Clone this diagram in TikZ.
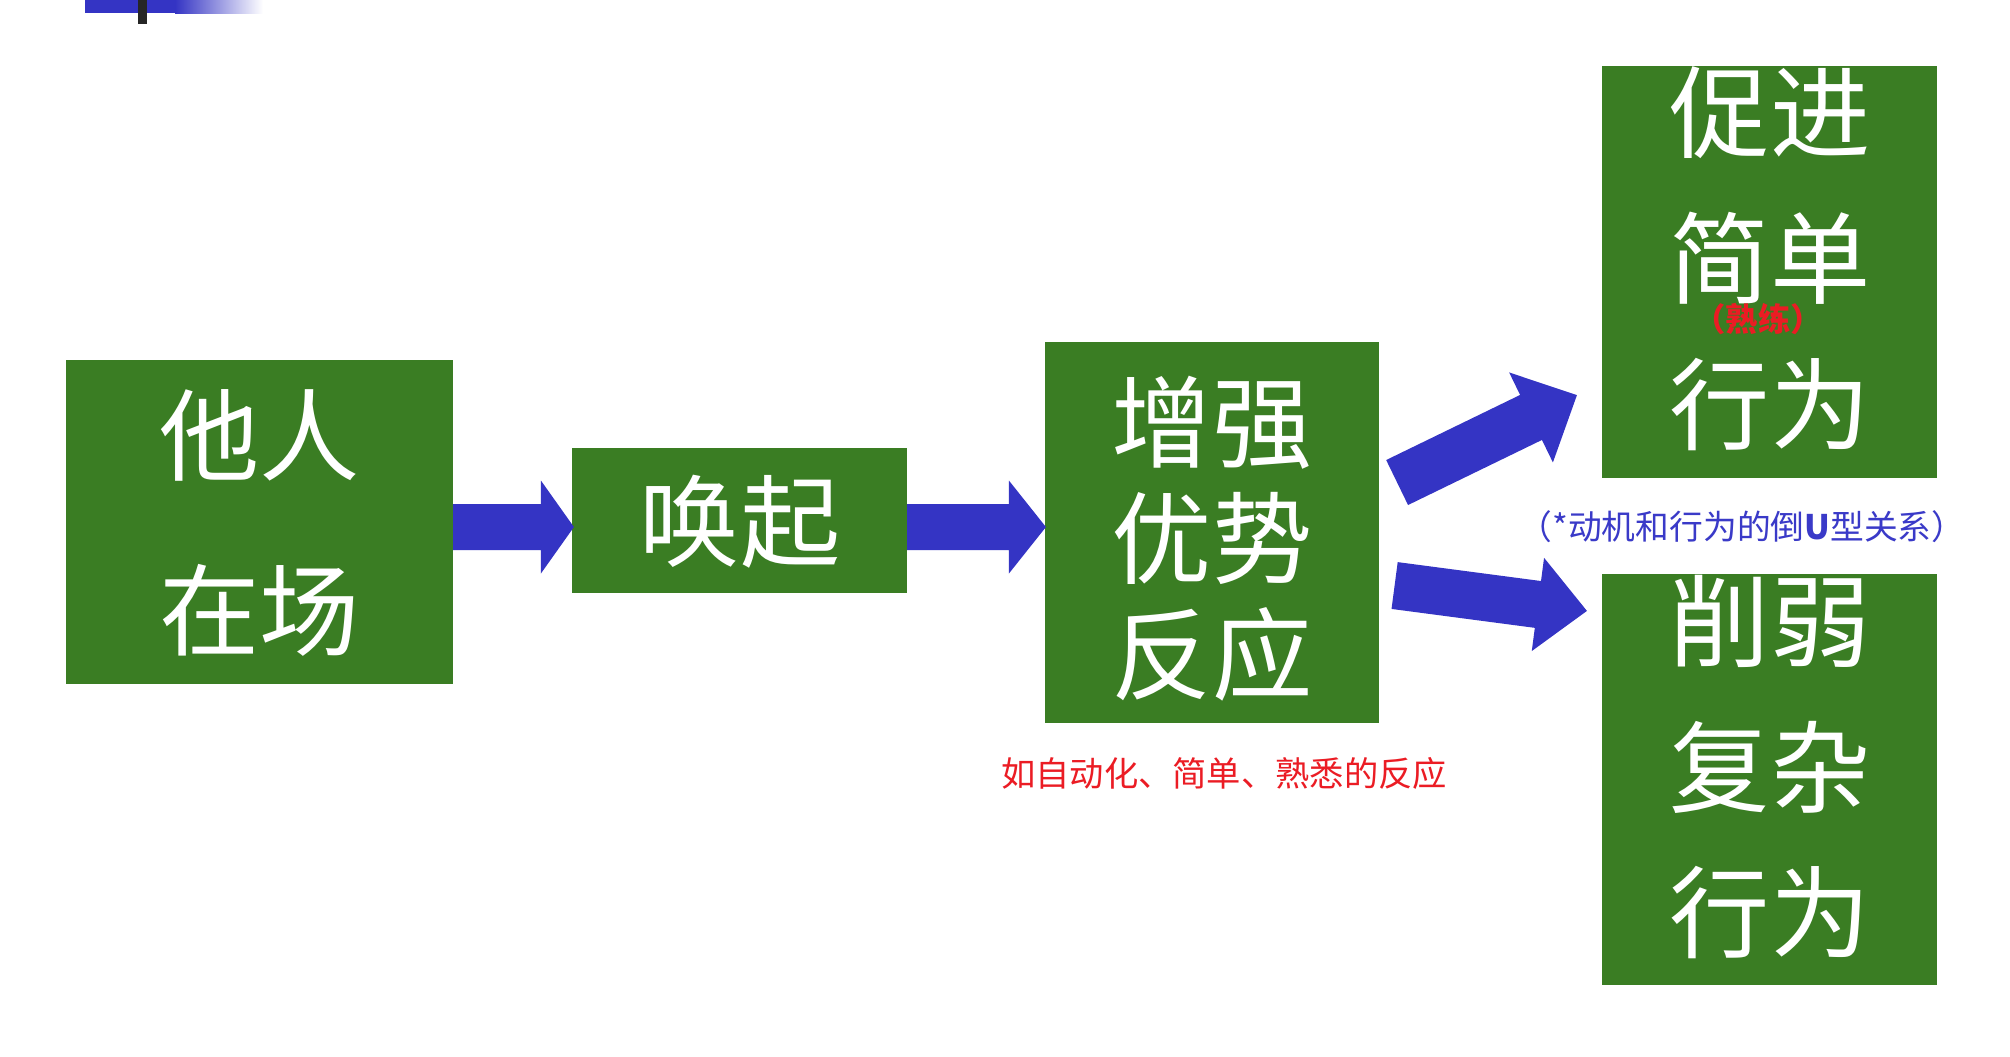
\documentclass[tikz,border=0pt]{standalone}
\usepackage{fontspec}
\setmainfont{Noto Sans CJK SC}
\usetikzlibrary{calc}

\definecolor{boxgreen}{RGB}{58,125,35}
\definecolor{arrowblue}{RGB}{52,52,196}
\definecolor{notered}{RGB}{235,28,36}
\definecolor{noteblue}{RGB}{58,58,200}

% fat arrow: tail, tip, half shaft, half head, head length
\newcommand{\fatarrow}[5]{%
  \coordinate (neck) at ($(#2)!#5!(#1)$);
  \fill[arrowblue] ($(#1)!#3!90:(#2)$) -- ($(neck)!#3!90:(#2)$) -- ($(neck)!#4!90:(#2)$) -- (#2)
    -- ($(neck)!#4!-90:(#2)$) -- ($(neck)!#3!-90:(#2)$) -- ($(#1)!#3!-90:(#2)$) -- cycle;}

\tikzset{
  box/.style={fill=boxgreen, inner sep=0pt, outer sep=0pt},
  boxtext/.style={text=white, align=center, inner sep=0pt},
}

\begin{document}
\begin{tikzpicture}[x=0.01cm, y=-0.01cm]
\useasboundingbox (0,0) rectangle (2010,1056);
\fill[white] (0,0) rectangle (2010,1056);

% Corner mark
\fill[arrowblue] (85,0) rectangle (176,13);
\shade[left color=arrowblue, right color=white] (175,0) rectangle (263,13);
\fill[black!85] (138,0) rectangle (147,24);

% Boxes
\node[box, minimum width=3.87cm, minimum height=3.24cm] (b1) at (259.5,522) {};
\node[box, minimum width=3.35cm, minimum height=1.45cm] (b2) at (739.5,520.5) {};
\node[box, minimum width=3.34cm, minimum height=3.81cm] (b3) at (1212,532.5) {};
\node[box, minimum width=3.35cm, minimum height=4.12cm] (b4) at (1769.5,272) {};
\node[box, minimum width=3.35cm, minimum height=4.11cm] (b5) at (1769.5,779.5) {};

% Box texts
\node[boxtext, font=\fontsize{28.5}{50}\selectfont] (t1) at (259.5,523) {他人\\在场};
\node[boxtext, font=\fontsize{28.5}{34}\selectfont] (t2) at (740,522) {唤起};
\node[boxtext, font=\fontsize{28.5}{33}\selectfont] (t3) at (1212,539) {增强\\优势\\反应};
\node[boxtext, font=\fontsize{28.5}{41.5}\selectfont] (t4) at (1770,259) {促进\\简单\\行为};
\node[boxtext, font=\fontsize{28.5}{41.5}\selectfont] (t5) at (1770,767) {削弱\\复杂\\行为};

% Arrows
\coordinate (a1s) at ($(b1.east)+(0,5)$);
\coordinate (a1e) at ($(b2.west)+(2,6.5)$);
\coordinate (a2s) at ($(b2.east)+(0,6.5)$);
\coordinate (a2e) at ($(b3.west)+(1,-5.5)$);
\coordinate (ups) at ($(b3.east)+(18,-50)$);
\coordinate (upe) at ($(b4.south west)+(-25,-83)$);
\coordinate (dns) at ($(b3.east)+(15.5,53)$);
\coordinate (dne) at ($(b5.north west)+(-15,37)$);
\fatarrow{a1s}{a1e}{0.23cm}{0.465cm}{0.33cm}
\fatarrow{a2s}{a2e}{0.23cm}{0.465cm}{0.37cm}
\fatarrow{ups}{upe}{0.25cm}{0.50cm}{0.51cm}
\fatarrow{dns}{dne}{0.236cm}{0.47cm}{0.494cm}

% Notes
\node[text=notered, font=\fontsize{9.75}{12}\selectfont] (n1) at (1224,773) {如自动化、简单、熟悉的反应};
\node[text=notered, inner sep=0pt, font=\fontsize{9.2}{11}\bfseries\selectfont] (n2) at (1758,319) {（熟练）};
\node[text=noteblue, font=\fontsize{9.6}{12}\selectfont] (n3) at (1742,527) {（*动机和行为的倒{\bfseries U}型关系）};

\end{tikzpicture}
\end{document}
